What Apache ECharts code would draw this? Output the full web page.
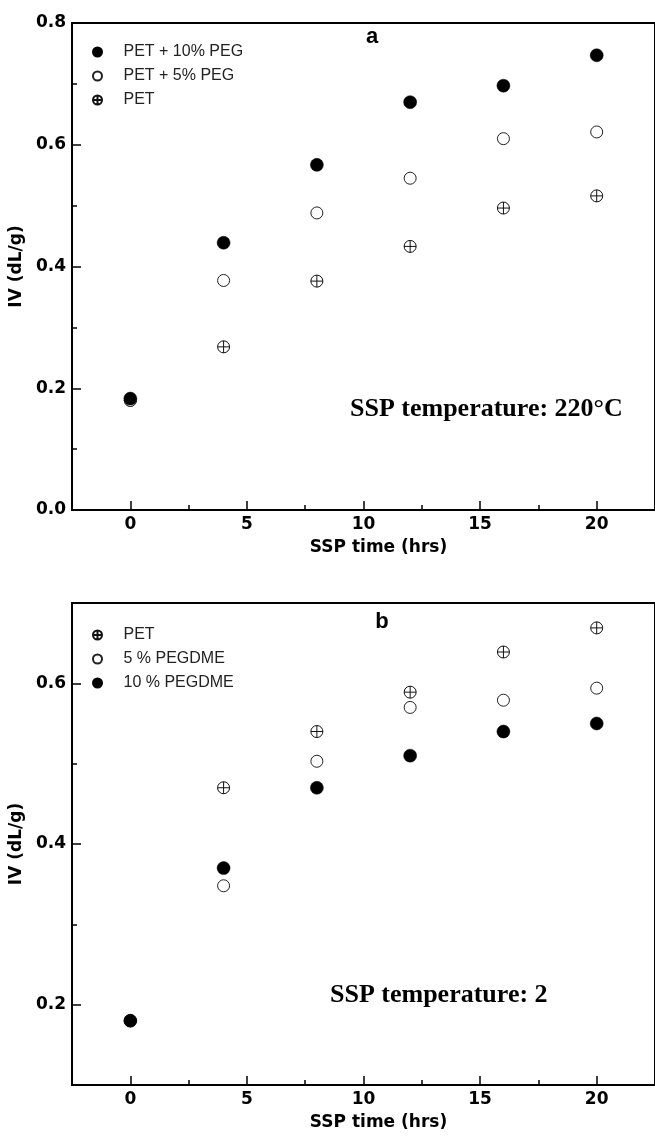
<!DOCTYPE html>
<html>
<head>
<meta charset="utf-8">
<script src="https://cdn.jsdelivr.net/npm/echarts@6/dist/echarts.min.js"></script>
<style>
  html, body { margin: 0; padding: 0; background: #fff; }
  #chart { width: 655px; height: 1136px; }
</style>
</head>
<body>
<div id="chart"></div>
<script>
// ---- data ----
const xHours = [0, 4, 8, 12, 16, 20];

// Panel a (SSP temperature 220°C)
const aPeg10 = [0.183, 0.439, 0.567, 0.670, 0.697, 0.747];
const aPeg5  = [0.180, 0.377, 0.488, 0.545, 0.610, 0.621];
const aPet   = [0.180, 0.268, 0.376, 0.433, 0.496, 0.516];
const aNames = ['PET + 10% PEG', 'PET + 5% PEG', 'PET'];

// Panel b
const bPet      = [0.180, 0.470, 0.540, 0.589, 0.639, 0.669];
const bPegdme5  = [0.180, 0.348, 0.503, 0.570, 0.579, 0.594];
const bPegdme10 = [0.180, 0.370, 0.470, 0.510, 0.540, 0.550];
const bNames = ['PET', '5 % PEGDME', '10 % PEGDME'];

const xMajorTicks = [0, 5, 10, 15, 20];
const xMinorTicks = [2.5, 7.5, 12.5, 17.5];
const bYMajorTicks = [0.2, 0.4, 0.6];
const bYMinorTicks = [0.3, 0.5];

const xTitle = 'SSP time (hrs)';
const yTitle = 'IV (dL/g)';
const labelA = 'a';
const labelB = 'b';
const noteA = 'SSP temperature: 220°C';
const noteB = 'SSP temperature: 2';

// ---- styling helpers ----
const CROSS = 'path://M10,0 A10,10 0 1,1 10,20 A10,10 0 1,1 10,0 Z M0,10 L20,10 M10,0 L10,20';
const axisFont = { fontFamily: 'DejaVu Sans', fontWeight: 'bold', fontSize: 17, color: '#000' };
const lineStyle = { color: '#000', width: 2 };
const tickLine = { color: '#000', width: 1.5 };

function pts(ys) { return xHours.map((x, i) => [x, ys[i]]); }

function majorX(grid) {
  return {
    type: 'value', gridIndex: grid, min: -2.5, max: 22.5, position: 'bottom',
    axisLine: { show: true, onZero: false, lineStyle },
    axisTick: { show: true, inside: true, length: 9, customValues: xMajorTicks, lineStyle: tickLine },
    axisLabel: Object.assign({ customValues: xMajorTicks, margin: 6, formatter: v => String(v) }, axisFont),
    splitLine: { show: false },
    name: xTitle, nameLocation: 'middle', nameGap: 29,
    nameTextStyle: Object.assign({ padding: [0, 0, 0, 30] }, axisFont)
  };
}
function minorX(grid) {
  return {
    type: 'value', gridIndex: grid, min: -2.5, max: 22.5, position: 'bottom',
    axisLine: { show: false, onZero: false },
    axisTick: { show: true, inside: true, length: 5, customValues: xMinorTicks, lineStyle: tickLine },
    axisLabel: { show: false },
    splitLine: { show: false }
  };
}
function symStyle(kind) {
  if (kind === 'filled') return { symbol: 'circle', symbolSize: 13, itemStyle: { color: '#000', borderColor: '#000', borderWidth: 0.5, opacity: 1 } };
  if (kind === 'open') return { symbol: 'circle', symbolSize: 12, itemStyle: { color: '#fff', borderColor: '#222', borderWidth: 1, opacity: 1 } };
  return { symbol: CROSS, symbolSize: 12, symbolKeepAspect: true, itemStyle: { color: 'rgba(255,255,255,0)', borderColor: '#111', borderWidth: 1, opacity: 1 } };
}
function scatter(name, ys, xi, yi, kind) {
  return Object.assign({
    type: 'scatter', name, data: pts(ys), xAxisIndex: xi, yAxisIndex: yi,
    silent: true, animation: false
  }, symStyle(kind));
}
function legendIcon(kind) { return kind === 'cross' ? CROSS : 'circle'; }

const option = {
  animation: false,
  backgroundColor: '#fff',
  grid: [
    { left: 65, top: 23, width: 599, height: 487, show: true, borderColor: '#000', borderWidth: 2, backgroundColor: 'transparent' },
    { left: 65, top: 603, width: 599, height: 482, show: true, borderColor: '#000', borderWidth: 2, backgroundColor: 'transparent' }
  ],
  xAxis: [majorX(0), minorX(0), majorX(1), minorX(1)],
  yAxis: [
    {
      type: 'value', gridIndex: 0, min: 0, max: 0.8, interval: 0.2, position: 'left',
      axisLine: { show: true, onZero: false, lineStyle },
      axisTick: { show: true, inside: true, length: 9, lineStyle: tickLine },
      minorTick: { show: true, splitNumber: 2, length: 5, lineStyle: tickLine },
      axisLabel: Object.assign({ margin: 6, formatter: v => v.toFixed(1) }, axisFont),
      splitLine: { show: false },
      name: yTitle, nameLocation: 'middle', nameGap: 40,
      nameTextStyle: axisFont
    },
    {
      type: 'value', gridIndex: 1, min: 0.1, max: 0.7, position: 'left',
      axisLine: { show: true, onZero: false, lineStyle },
      axisTick: { show: true, inside: true, length: 9, customValues: bYMajorTicks, lineStyle: tickLine },
      axisLabel: Object.assign({ customValues: bYMajorTicks, margin: 6, formatter: v => v.toFixed(1) }, axisFont),
      splitLine: { show: false },
      name: yTitle, nameLocation: 'middle', nameGap: 40,
      nameTextStyle: axisFont
    },
    {
      type: 'value', gridIndex: 1, min: 0.1, max: 0.7, position: 'left',
      axisLine: { show: false, onZero: false },
      axisTick: { show: true, inside: true, length: 5, customValues: bYMinorTicks, lineStyle: tickLine },
      axisLabel: { show: false },
      splitLine: { show: false }
    }
  ],
  legend: [
    {
      orient: 'vertical', left: 92, top: 44, padding: 0, itemGap: 8,
      itemWidth: 42, itemHeight: 9, selectedMode: false,
      textStyle: { fontFamily: 'Liberation Sans', fontSize: 16, color: '#222' },
      data: [
        { name: aNames[0], icon: legendIcon('filled') },
        { name: aNames[1], icon: legendIcon('open') },
        { name: aNames[2], icon: legendIcon('cross') }
      ]
    },
    {
      orient: 'vertical', left: 92, top: 627, padding: 0, itemGap: 8,
      itemWidth: 42, itemHeight: 9, selectedMode: false,
      textStyle: { fontFamily: 'Liberation Sans', fontSize: 16, color: '#222' },
      data: [
        { name: bNames[0], icon: legendIcon('cross') },
        { name: bNames[1], icon: legendIcon('open') },
        { name: bNames[2], icon: legendIcon('filled') }
      ]
    }
  ],
  series: [
    scatter(aNames[2], aPet, 0, 0, 'cross'),
    scatter(aNames[1], aPeg5, 0, 0, 'open'),
    scatter(aNames[0], aPeg10, 0, 0, 'filled'),
    scatter(bNames[0], bPet, 2, 1, 'cross'),
    scatter(bNames[1], bPegdme5, 2, 1, 'open'),
    scatter(bNames[2], bPegdme10, 2, 1, 'filled')
  ],
  graphic: [
    { type: 'text', x: 372, y: 37, silent: true,
      style: { text: labelA, fill: '#000', font: 'bold 22px "Liberation Sans"', align: 'center', verticalAlign: 'middle' } },
    { type: 'text', x: 382, y: 622, silent: true,
      style: { text: labelB, fill: '#000', font: 'bold 22px "Liberation Sans"', align: 'center', verticalAlign: 'middle' } },
    { type: 'text', x: 350, y: 409, silent: true,
      style: { text: noteA, fill: '#000', font: 'bold 26px "Liberation Serif"', align: 'left', verticalAlign: 'middle' } },
    { type: 'text', x: 330, y: 995, silent: true,
      style: { text: noteB, fill: '#000', font: 'bold 26px "Liberation Serif"', align: 'left', verticalAlign: 'middle' } }
  ]
};

const chart = echarts.init(document.getElementById('chart'), null, { renderer: 'canvas', width: 655, height: 1136 });
chart.setOption(option);
</script>
</body>
</html>
